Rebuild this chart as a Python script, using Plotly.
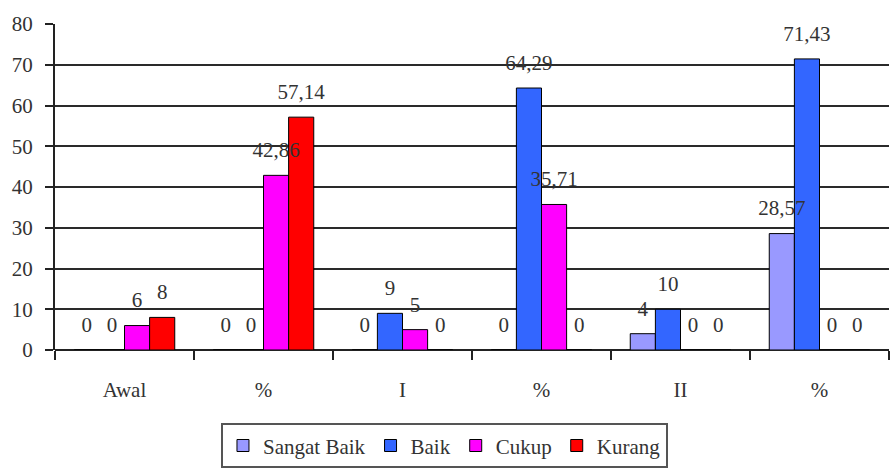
import plotly.graph_objects as go

categories = ["Awal", "%", "I", "%", "II", "%"]
series_names = ["Sangat Baik", "Baik", "Cukup", "Kurang"]
sangat_baik = [0, 0, 0, 0, 4, 28.57]
baik = [0, 0, 9, 64.29, 10, 71.43]
cukup = [6, 42.86, 5, 35.71, 0, 0]
kurang = [8, 57.14, 0, 0, 0, 0]
y_ticks = [0, 10, 20, 30, 40, 50, 60, 70, 80]

colors = ["#9999FF", "#3366FF", "#FF00FF", "#FF0000"]
all_values = [sangat_baik, baik, cukup, kurang]

FONT = "Liberation Serif"
TXT = "#333333"

x = list(range(len(categories)))

def fmt(v):
    if float(v).is_integer():
        return str(int(v))
    return f"{v:.2f}".replace(".", ",")

fig = go.Figure()
for name, vals, col in zip(series_names, all_values, colors):
    fig.add_trace(go.Bar(
        x=x, y=vals, name=name, offsetgroup=name,
        marker=dict(color=col, line=dict(color="#000000", width=1)),
        hoverinfo="skip",
    ))
for name, vals in zip(series_names, all_values):
    fig.add_trace(go.Scatter(
        x=x, y=vals, mode="markers+text", offsetgroup=name,
        text=[fmt(v) for v in vals], textposition="top center",
        textfont=dict(family=FONT, size=21, color=TXT),
        marker=dict(size=19, color="rgba(0,0,0,0)"),
        showlegend=False, hoverinfo="skip", cliponaxis=False,
    ))

fig.update_layout(
    width=890, height=469,
    margin=dict(l=55, r=1, t=24, b=119),
    paper_bgcolor="white", plot_bgcolor="white",
    barmode="group", bargap=0.277, bargroupgap=0,
    scattermode="group", scattergap=0.277,
    font=dict(family=FONT, size=21, color=TXT),
    showlegend=True,
    legend=dict(
        orientation="h", x=0.467, xanchor="center", y=-0.225, yanchor="top",
        bordercolor="#555555", borderwidth=2,
        font=dict(family=FONT, size=21, color=TXT),
        itemwidth=30, tracegroupgap=0,
    ),
    xaxis=dict(
        range=[-0.5, len(categories) - 0.5],
        tickmode="array", tickvals=x, ticktext=categories,
        ticks="", showgrid=False, zeroline=False,
        showline=False,
        ticklabelstandoff=25,
        tickfont=dict(family=FONT, size=21, color=TXT),
        minor=dict(tickmode="linear", tick0=-0.5, dtick=1, ticks="outside",
                   ticklen=9, tickwidth=2, tickcolor="#222222", showgrid=False),
    ),
    yaxis=dict(
        range=[0, 80], tickmode="array", tickvals=y_ticks,
        ticks="outside", ticklen=8, tickwidth=2, tickcolor="#222222",
        showgrid=True, gridcolor="#2a2a2a", gridwidth=2,
        zeroline=True, zerolinecolor="#222222", zerolinewidth=2,
        showline=True, linecolor="#222222", linewidth=2,
        ticklabelstandoff=8,
        tickfont=dict(family=FONT, size=21, color=TXT),
    ),
)

fig.write_html("out.html")
